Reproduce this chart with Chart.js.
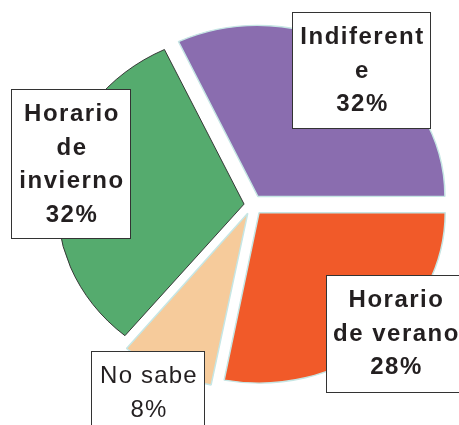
<!DOCTYPE html>
<html>
<head>
<meta charset="utf-8">
<script src="https://cdn.jsdelivr.net/npm/chart.js@4/dist/chart.umd.min.js"></script>
<style>
  body { margin: 0; background: #ffffff; }
  #wrap { width: 459px; height: 425px; }
</style>
</head>
<body>
<div id="wrap"><canvas id="chart" width="459" height="425"></canvas></div>
<script>
// data
var categories = ['Indiferente', 'Horario de verano', 'No sabe', 'Horario de invierno'];
var values = [32, 28, 8, 32];
var labelLines = [['Indiferent', 'e'], ['Horario', 'de verano'], ['No sabe'], ['Horario', 'de', 'invierno']];
var labelBold = [true, true, false, true];

var colors = ['#8a6daf', '#f15a29', '#f6cb9b', '#55ab6e'];
var borders = ['#c6e6e4', '#c6e6e4', '#c6e6e4', '#333333'];

// boxes relative to the pie centre: dx, dy, w, h
var boxes = [
    { dx: 40, dy: -193, w: 138, h: 116 },
    { dx: 74, dy: 70, w: 138, h: 117 },
    { dx: -161, dy: 146, w: 113, h: 90 },
    { dx: -241, dy: -116, w: 119, h: 149 }
];

var SQUASH = 0.915;

var squashPlugin = {
    id: 'squash',
    beforeDatasetsDraw: function (chart) {
        var a = chart.getDatasetMeta(0).data[0];
        var ctx = chart.ctx;
        ctx.save();
        ctx.translate(a.x, a.y);
        ctx.scale(1, SQUASH);
        ctx.translate(-a.x, -a.y);
    },
    afterDatasetsDraw: function (chart) {
        chart.ctx.restore();
    }
};

var boxLabels = {
    id: 'boxLabels',
    afterDraw: function (chart) {
        var ctx = chart.ctx;
        var arcs = chart.getDatasetMeta(0).data;
        var cx = arcs[0].x, cy = arcs[0].y;
        var total = values.reduce(function (s, v) { return s + v; }, 0);
        ctx.save();
        for (var i = 0; i < values.length; i++) {
            var b = boxes[i];
            var x = Math.round(cx + b.dx) + 0.5, y = Math.round(cy + b.dy) + 0.5;
            ctx.fillStyle = '#ffffff';
            ctx.fillRect(x, y, b.w, b.h);
            ctx.strokeStyle = '#333333';
            ctx.lineWidth = 1;
            ctx.strokeRect(x, y, b.w, b.h);
            var lines = labelLines[i].concat([Math.round(values[i] / total * 100) + '%']);
            ctx.font = (labelBold[i] ? 'bold ' : '') + '24px "Liberation Sans", Arial, sans-serif';
            ctx.letterSpacing = labelBold[i] ? '1.5px' : '1.2px';
            ctx.fillStyle = '#231f20';
            ctx.textAlign = 'center';
            ctx.textBaseline = 'middle';
            for (var j = 0; j < lines.length; j++) {
                ctx.fillText(lines[j], x + b.w / 2 + 1, y + 25 + j * 33.5);
            }
        }
        ctx.restore();
    }
};

new Chart(document.getElementById('chart'), {
    type: 'pie',
    data: {
        labels: categories,
        datasets: [{
            data: values,
            backgroundColor: colors,
            borderColor: borders,
            borderWidth: [1.5, 1.5, 1.5, 1],
            offset: [44, 44, 40, 32],
            radius: 186
        }]
    },
    options: {
        responsive: false,
        animation: false,
        rotation: -25.2,
        layout: { padding: { left: 45, right: 0, top: 0, bottom: 15 } },
        plugins: {
            legend: { display: false },
            tooltip: { enabled: false }
        }
    },
    plugins: [squashPlugin, boxLabels]
});
</script>
</body>
</html>
